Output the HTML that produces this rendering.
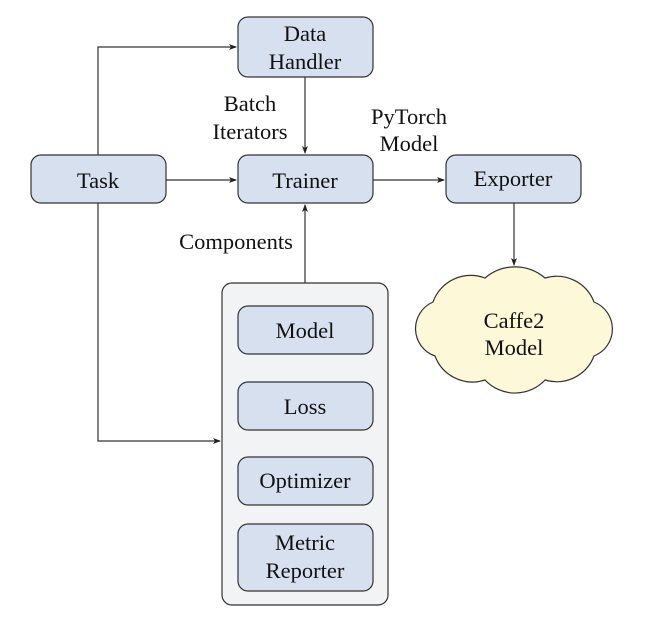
<!DOCTYPE html>
<html><head><meta charset="utf-8"><style>
html,body{margin:0;padding:0;background:#fff;}
svg{display:block;}
text{font-family:"Liberation Serif",serif;font-size:22.5px;fill:#111;}
</style></head><body>
<svg width="646" height="628" viewBox="0 0 646 628" xmlns="http://www.w3.org/2000/svg">
<defs>
<marker id="ah" markerWidth="8" markerHeight="8" refX="7" refY="4" orient="auto" markerUnits="userSpaceOnUse">
<path d="M0,1 L8,4 L0,7 L2,4 Z" fill="#222"/>
</marker>
</defs>
<g stroke="#333" stroke-width="1.2" fill="none">
<polyline points="98,155 98,47 236,47" marker-end="url(#ah)"/>
<polyline points="98,203 98,441 220,441" marker-end="url(#ah)"/>
<line x1="166" y1="180" x2="236" y2="180" marker-end="url(#ah)"/>
<line x1="305" y1="77" x2="305" y2="153" marker-end="url(#ah)"/>
<line x1="305" y1="283" x2="305" y2="205" marker-end="url(#ah)"/>
<line x1="373" y1="180" x2="444" y2="180" marker-end="url(#ah)"/>
<line x1="514" y1="203" x2="514" y2="265" marker-end="url(#ah)"/>
</g>
<g stroke="#333" stroke-width="1.2">
<rect x="222" y="283" width="166" height="322" rx="10" fill="#f2f3f5"/>
<rect x="238" y="17" width="135" height="60" rx="10" fill="#d6e0ef"/>
<rect x="31" y="155" width="135" height="48" rx="10" fill="#d6e0ef"/>
<rect x="238" y="155" width="135" height="48" rx="10" fill="#d6e0ef"/>
<rect x="446" y="155" width="135" height="48" rx="10" fill="#d6e0ef"/>
<rect x="238" y="306" width="135" height="48" rx="10" fill="#d6e0ef"/>
<rect x="238" y="382" width="135" height="48" rx="10" fill="#d6e0ef"/>
<rect x="238" y="457" width="135" height="48" rx="10" fill="#d6e0ef"/>
<rect x="238" y="524" width="135" height="67" rx="10" fill="#d6e0ef"/>
<path d="M433,302 A40,40 0 0 1 485,278 A46,46 0 0 1 545,278 A40,40 0 0 1 594,302 A29,29 0 0 1 594,356 A40,40 0 0 1 545,380 A41,41 0 0 1 485,380 A40,40 0 0 1 435,356 A29,29 0 0 1 433,302 Z" fill="#fcf8d8"/>
</g>
<g text-anchor="middle">
<text x="305" y="41">Data</text>
<text x="305" y="69">Handler</text>
<text x="98" y="188">Task</text>
<text x="305" y="188">Trainer</text>
<text x="513" y="186">Exporter</text>
<text x="305" y="338">Model</text>
<text x="305" y="414">Loss</text>
<text x="305" y="488">Optimizer</text>
<text x="305" y="550">Metric</text>
<text x="305" y="578">Reporter</text>
<text x="514" y="328">Caffe2</text>
<text x="514" y="355">Model</text>
<text x="250" y="111">Batch</text>
<text x="250" y="139">Iterators</text>
<text x="409" y="124">PyTorch</text>
<text x="409" y="151">Model</text>
<text x="236" y="249">Components</text>
</g>
</svg>
</body></html>
